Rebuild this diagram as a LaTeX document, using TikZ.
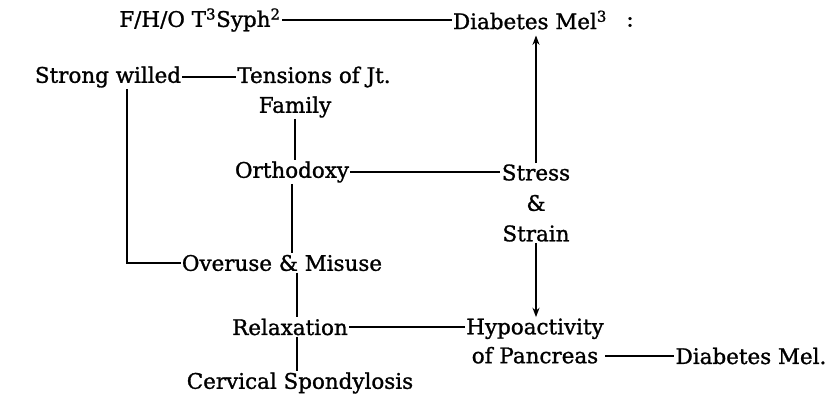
\documentclass[tikz,border=0pt]{standalone}
\usepackage{fontspec}
\setmainfont{DejaVu Serif}[FakeBold=1.2]
\usepackage{tikz}
\usetikzlibrary{positioning, arrows.meta}

\begin{document}
\begin{tikzpicture}[
  x=0.03cm, y=-0.03cm,
  every node/.style={font=\fontsize{18.3}{24.7}\selectfont},
  factor/.style={inner sep=1pt, align=center},
  linea/.style={line width=1.6pt, black},
  flecha/.style={linea, -{Stealth[length=8pt, width=6pt]}}
]
  \useasboundingbox (0,0) rectangle (834,401);

  % --- Top row ---
  \node[factor] (fho)    at (200,20)  {F/H/O T\textsuperscript{3}Syph\textsuperscript{2}};
  \node[factor] (dm3)    at (530,20)  {Diabetes Mel\textsuperscript{3}};
  \node[factor] (colon)  at (630,22)  {:};

  % --- Left branch ---
  \node[factor] (strong) at (108,77)  {Strong willed};
  \node[factor] (tens)   at (314,77)  {Tensions of Jt.};
  \node[factor] (fam)    at (295,107) {Family};
  \node[factor] (ortho)  at (292,172) {Orthodoxy};
  \node[factor] (overuse) at (282,263) {Overuse \& Misuse};
  \node[factor] (relax)  at (290,327) {Relaxation};
  \node[factor] (cerv)   at (300,383) {Cervical Spondylosis};

  % --- Right branch ---
  \node[factor, font=\fontsize{18.3}{26}\selectfont]
                (stress) at (536,203) {Stress\\\&\\Strain};
  \node[factor] (hypo)   at (535,341) {Hypoactivity\\of Pancreas};
  \node[factor] (dmel)   at (751,356) {Diabetes Mel.};

  % --- Connectors ---
  \draw[linea] (fho.east) -- (fho.east -| dm3.west);
  \draw[linea] (strong.east) -- (tens.west);
  \draw[linea] (fam.south) -- (fam.south |- ortho.north);
  \draw[linea] (ortho.east) -- (ortho.east -| stress.west);
  \draw[flecha, shorten >=4pt] (stress.north) -- (stress.north |- dm3.south);
  \draw[linea] (ortho.south) -- (ortho.south |- overuse.north);
  \draw[linea] ([xshift=0.57cm]strong.south) |- (overuse.west);
  \draw[linea] ([xshift=0.2cm]relax.north |- overuse.south) -- ([xshift=0.2cm]relax.north);
  \draw[linea] ([xshift=0.2cm]relax.south) -- ([xshift=0.2cm]relax.south |- cerv.north);
  \draw[linea] (relax.east) -- (relax.east -| hypo.west);
  \draw[flecha] (stress.south) -- (stress.south |- hypo.north);
  \draw[linea] (hypo.east |- dmel.west) -- (dmel.west);
\end{tikzpicture}
\end{document}
